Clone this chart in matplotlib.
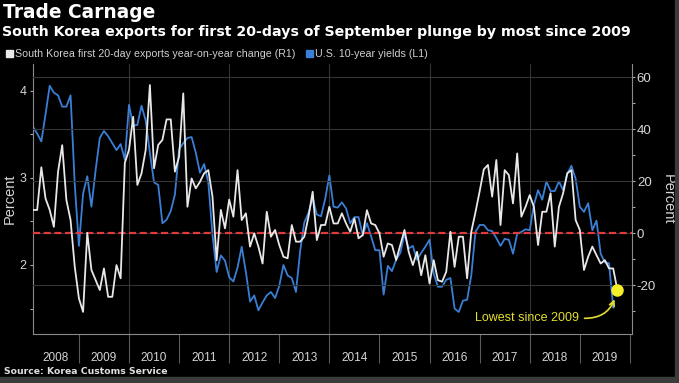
import matplotlib
matplotlib.use('Agg')
import matplotlib.pyplot as plt
from matplotlib.patches import Rectangle

# South Korea first 20-day exports, y/y change (%), monthly from Jan 2008
exports_yoy = [
    8.9, 8.9, 25.3, 13.3, 8.9, 2.4, 23.6, 33.8, 12.7, 5.0, -12.9, -25.1,      # 2008
    -30.3, 0.1, -14.2, -18.1, -21.9, -13.6, -24.5, -24.5, -12.3, -17.4, 27.0, 32.0,  # 2009
    44.7, 18.5, 23.0, 32.0, 56.9, 24.9, 33.9, 35.8, 43.7, 43.7, 23.6, 29.4,   # 2010
    53.7, 10.1, 21.0, 17.2, 19.7, 23.0, 24.2, 14.0, -10.4, 8.9, 1.8, 12.9,    # 2011
    6.3, 24.2, 5.0, 7.6, -5.2, -0.1, -5.2, -11.7, 8.2, -1.4, 1.2, -4.6,       # 2012
    -9.1, -9.7, 3.1, -3.3, -3.3, -1.4, 6.3, 15.9, -2.7, 3.1, 3.1, 10.1,       # 2013
    3.7, 3.7, 7.6, 3.7, 0.5, 5.6, -2.0, -0.8, 8.8, 3.7, 3.1, -0.1,            # 2014
    -9.1, -4.0, -4.6, -10.4, -4.6, 1.2, -7.2, -12.3, -7.2, -16.2, -8.5, -19.4,  # 2015
    -10.4, -18.1, -18.7, -14.9, 0.5, -13.0, -1.4, -1.4, -17.4, 0.5, 8.0, 16.0,  # 2016
    24.5, 26.2, 14.0, 28.1, 3.1, 24.2, 22.3, 11.4, 30.6, 6.3, 10.1, 14.6,     # 2017
    10.1, -4.6, 8.2, 8.2, 15.3, -5.2, 10.1, 15.3, 23.0, 24.2, 5.0, 1.2,       # 2018
    -14.2, -9.1, -5.2, -8.5, -11.7, -10.4, -13.6, -13.6, -21.9,               # 2019
]

# U.S. 10-year Treasury yield (%), month end from Jan 2008
ust_10y = [
    3.59, 3.51, 3.42, 3.73, 4.06, 3.98, 3.95, 3.82, 3.82, 3.95, 2.93, 2.22,   # 2008
    2.82, 3.02, 2.67, 3.09, 3.46, 3.54, 3.48, 3.40, 3.32, 3.39, 3.21, 3.84,   # 2009
    3.60, 3.61, 3.83, 3.66, 3.29, 2.95, 2.92, 2.48, 2.52, 2.62, 2.81, 3.33,   # 2010
    3.40, 3.46, 3.47, 3.29, 3.06, 3.16, 2.95, 2.35, 1.92, 2.11, 2.05, 1.86,   # 2011
    1.81, 1.97, 2.21, 1.92, 1.58, 1.65, 1.48, 1.57, 1.65, 1.69, 1.62, 1.76,   # 2012
    2.00, 1.88, 1.85, 1.69, 2.16, 2.49, 2.60, 2.77, 2.58, 2.56, 2.76, 3.03,   # 2013
    2.67, 2.66, 2.72, 2.65, 2.48, 2.55, 2.55, 2.34, 2.48, 2.33, 2.17, 2.17,   # 2014
    1.66, 1.99, 1.93, 2.06, 2.14, 2.36, 2.19, 2.22, 2.06, 2.14, 2.21, 2.29,   # 2015
    1.90, 1.75, 1.75, 1.83, 1.85, 1.50, 1.46, 1.59, 1.60, 1.88, 2.38, 2.46,   # 2016
    2.46, 2.40, 2.39, 2.31, 2.22, 2.30, 2.29, 2.13, 2.36, 2.38, 2.41, 2.40,   # 2017
    2.69, 2.86, 2.75, 2.96, 2.85, 2.85, 2.96, 2.86, 3.05, 3.14, 2.99, 2.67,   # 2018
    2.61, 2.71, 2.40, 2.51, 2.13, 2.03, 2.02, 1.51,                           # 2019
]

start_year = 2008
years = list(range(2008, 2020))
left_ticks = [2, 3, 4]
right_ticks = [-20, 0, 20, 40, 60]

W, H = 679, 383
BLUE = '#3a7fd5'
WHITE = '#e8e8e8'
YELLOW = '#e4df2e'
GRID = '#353535'
TICKTXT = '#d6d6d6'

plt.rcParams['font.family'] = ['Liberation Sans', 'DejaVu Sans']
plt.rcParams['axes.unicode_minus'] = False

# points sit at month end
t_exports = [start_year + (i + 1) / 12 for i in range(len(exports_yoy))]
t_yields = [start_year + (i + 1) / 12 for i in range(len(ust_10y))]

fig = plt.figure(figsize=(W / 100, H / 100), dpi=100, facecolor='black')
ax1 = fig.add_axes([33 / W, 49 / H, 599 / W, 270 / H])
ax2 = ax1.twinx()
ax1.set_facecolor('black')

x0, x1 = start_year + 1 / 12, 2020.042
ax1.set_xlim(x0, x1)
ax1.set_ylim(1.207, 4.31)
ax2.set_ylim(-38.8, 65)

# vertical grid every other year
for y in years[2::2]:
    ax1.axvline(y, color=GRID, lw=0.8, zorder=0)
ax2.set_yticks(right_ticks)
ax2.yaxis.grid(True, color=GRID, lw=0.8)
ax2.set_axisbelow(True)

ax1.plot(t_yields, ust_10y, color=BLUE, lw=1.3)
ax2.axhline(0, color='#e0393e', lw=1.6, ls=(0, (3.2, 1.6)))
ax2.plot(t_exports, exports_yoy, color=WHITE, lw=1.3)
ax2.plot(t_exports[-1], exports_yoy[-1], 'o', color='#f5ef2a', ms=8, zorder=5)

ax2.annotate('Lowest since 2009', xy=(t_exports[-1], exports_yoy[-1]),
             xytext=(579, H - 318), textcoords='figure pixels',
             ha='right', va='center', color=YELLOW, fontsize=9,
             arrowprops=dict(arrowstyle='->', color=YELLOW, lw=1.2,
                             connectionstyle='arc3,rad=0.45', relpos=(1, 0.5),
                             shrinkA=2, shrinkB=7))

# x axis: long ticks on year boundaries, labels in the middle of each year
ax1.set_xticks(years[1:] + [2020])
ax1.set_xticklabels([])
label_pos = [(max(y, x0) + y + 1) / 2 for y in years]
ax1.set_xticks(label_pos, minor=True)
ax1.set_xticklabels([str(y) for y in years], minor=True)
ax1.tick_params(axis='x', which='major', length=21, width=0.8, color='#5a5a5a')
ax1.tick_params(axis='x', which='minor', length=0, pad=13, labelsize=8.5, labelcolor=TICKTXT)

ax1.set_yticks(left_ticks)
ax1.set_yticks([1.5, 2.5, 3.5], minor=True)
ax1.tick_params(axis='y', which='both', length=2.5, width=0.8, color='#aaaaaa',
                labelsize=9, labelcolor=TICKTXT, pad=2)
ax2.set_yticks([-30, -10, 10, 30, 50], minor=True)
ax2.tick_params(axis='y', which='both', length=2.5, width=0.8, color='#aaaaaa',
                labelsize=9.5, labelcolor=TICKTXT, pad=1)

ax1.set_ylabel('Percent', color=TICKTXT, fontsize=10.5, ha='center', va='center')
ax1.yaxis.set_label_coords(-23 / 599, 0.5)
ax2.set_ylabel('Percent', color=TICKTXT, fontsize=10.5, rotation=270,
               ha='center', va='center')
ax2.yaxis.set_label_coords(635 / 599, 0.5)

for s in ('top', 'right'):
    ax1.spines[s].set_visible(False)
for s in ('top', 'left', 'bottom'):
    ax2.spines[s].set_visible(False)
for sp in (ax1.spines['left'], ax1.spines['bottom'], ax2.spines['right']):
    sp.set_color('#8a8a8a')
    sp.set_linewidth(0.8)

# titles, legend, source
fig.text(3 / W, 1 - 18 / H, 'Trade Carnage', fontsize=13.4, weight='bold',
         family='DejaVu Sans', color='white', va='baseline')
fig.text(2 / W, 1 - 36 / H,
         'South Korea exports for first 20-days of September plunge by most since 2009',
         fontsize=10.15, weight='bold', family='DejaVu Sans', color='white', va='baseline')

fig.patches.append(Rectangle((6 / W, 1 - 57 / H), 7 / W, 7 / H,
                             transform=fig.transFigure, color=WHITE))
fig.text(15 / W, 1 - 57 / H, 'South Korea first 20-day exports year-on-year change (R1)',
         fontsize=7.7, color='#d0d0d0', va='baseline')
fig.patches.append(Rectangle((306 / W, 1 - 57 / H), 7 / W, 7 / H,
                             transform=fig.transFigure, color=BLUE))
fig.text(315 / W, 1 - 57 / H, 'U.S. 10-year yields (L1)',
         fontsize=7.7, color='#d0d0d0', va='baseline')

fig.text(4 / W, 1 - 374 / H, 'Source: Korea Customs Service', fontsize=6.7,
         weight='bold', family='DejaVu Sans', color='#e0e0e0', va='baseline')

# grey frame from the screenshot edge
fig.patches.append(Rectangle((0, 0), 1, 6 / H, transform=fig.transFigure, color='#3b3b3b'))
fig.patches.append(Rectangle((675 / W, 0), 4 / W, 1, transform=fig.transFigure, color='#3b3b3b'))

fig.savefig('out.png', dpi=100, facecolor='black')
